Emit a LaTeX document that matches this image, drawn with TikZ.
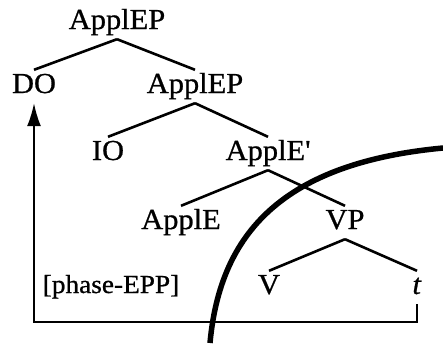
\documentclass[tikz,border=0pt]{standalone}
\usepackage{fontspec}
\setmainfont[FakeStretch=1.05, FakeBold=0.8]{Liberation Serif}
\usetikzlibrary{arrows.meta}

\tikzset{
  cat/.style={anchor=base, font=\fontsize{29}{32}\selectfont, inner xsep=1pt, inner ysep=3pt, text height=20pt, text depth=7pt},
  branch/.style={line width=2.6pt},
  move/.style={line width=1.8pt, -{Latex[length=23pt, width=14pt]}},
  boundary/.style={line width=5.5pt}
}

\begin{document}
\begin{tikzpicture}[x=1pt, y=-1pt]
    \useasboundingbox (0,0) rectangle (443,343);

    % Applicative tree
    \node[cat] (top) at (117,29) {ApplEP};
    \node[cat] (do) at (34,93) {DO};
    \node[cat] (applep) at (195,93) {ApplEP};
    \node[cat] (io) at (108,160) {IO};
    \node[cat] (applbar) at (268,160) {ApplE\textquotesingle};
    \node[cat] (apple) at (181,229) {ApplE};
    \node[cat] (vp) at (345,229) {VP};
    \node[cat] (v) at (269,294) {V};
    \node[cat] (trace) at (417,294) {\textit{t}};
    \node[cat, font=\fontsize{26}{30}\selectfont] (epp) at (111,293) {[phase-EPP]};

    \draw[branch] (top.south) -- (do.north);
    \draw[branch] (top.south) -- (applep.north);
    \draw[branch] (applep.south) -- (io.north);
    \draw[branch] (applep.south) -- (applbar.north);
    \draw[branch] (applbar.south) -- (apple.north);
    \draw[branch] (applbar.south) -- (vp.north);
    \draw[branch] (vp.south) -- (v.north);
    \draw[branch] (vp.south) -- (trace.north);

    % Movement of DO
    \coordinate (floor) at (0,322);
    \draw[move] (trace.south) -- (trace.south |- floor) -| (do.south);

    % Phase boundary
    \draw[boundary] (210,343) .. controls (220,233) and (283,163) .. (443,148);
\end{tikzpicture}
\end{document}
